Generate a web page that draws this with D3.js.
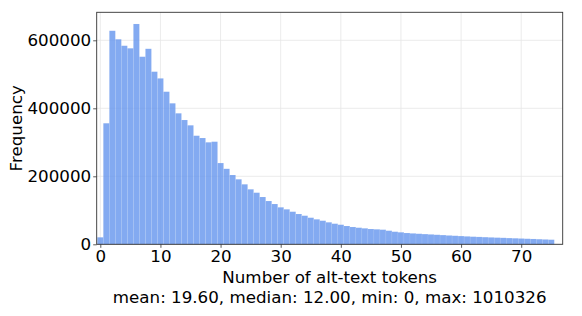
<!DOCTYPE html>
<html>
<head>
<meta charset="utf-8">
<script src="https://cdn.jsdelivr.net/npm/d3@7"></script>
<style>
  html, body { margin: 0; padding: 0; background: #fff; }
  svg text { font-family: "DejaVu Sans", sans-serif; fill: #000; }
</style>
</head>
<body>
<div id="chart"></div>
<script>
'use strict';

// histogram bins: token count 0..75, one bin per integer
var tokens = d3.range(0, 76);
var counts = [
  20600, 356000, 628000, 603000, 584000, 576500, 648000, 551700, 575000, 507700,
  488000, 448800, 414700, 385300, 365600, 350000, 319400, 312600, 300000, 301800,
  239000, 222000, 203800, 191200, 176500, 161800, 151800, 139100, 127300, 118500,
  108800, 102900, 95900, 89100, 84100, 78200, 73500, 69400, 64700, 60600,
  57600, 53800, 50900, 48800, 47000, 45000, 44100, 43000, 40000, 37000,
  35300, 33200, 32100, 31000, 30000, 29100, 28000, 27100, 26000, 25100,
  24200, 23300, 22400, 21700, 21000, 20300, 19600, 19000, 18300, 17700,
  17000, 16300, 15700, 15000, 14300, 13600
];
var xTicks = [0, 10, 20, 30, 40, 50, 60, 70];
var yTicks = [0, 200000, 400000, 600000];
var xLabel = "Number of alt-text tokens";
var statsLabel = "mean: 19.60, median: 12.00, min: 0, max: 1010326";
var yLabel = "Frequency";

var W = 582, H = 316;
var m = {left: 96.7, right: 582 - 562.7, top: 12.3, bottom: 316 - 244.3};
var iw = W - m.left - m.right, ih = H - m.top - m.bottom;
var fontSize = '16.7px';

var svg = d3.select('#chart').append('svg')
  .attr('width', W)
  .attr('height', H);

var x = d3.scaleLinear().domain([-0.6, 76.9]).range([m.left, m.left + iw]);
var y = d3.scaleLinear().domain([0, 682350]).range([m.top + ih, m.top]);

// grid
var grid = svg.append('g').attr('class', 'grid');
grid.selectAll('.gx').data(xTicks).enter().append('line')
  .attr('x1', function(d){ return x(d); }).attr('x2', function(d){ return x(d); })
  .attr('y1', m.top).attr('y2', m.top + ih)
  .attr('stroke', '#e6e6e6').attr('stroke-width', 0.8);
grid.selectAll('.gy').data(yTicks).enter().append('line')
  .attr('x1', m.left).attr('x2', m.left + iw)
  .attr('y1', function(d){ return y(d); }).attr('y2', function(d){ return y(d); })
  .attr('stroke', '#e6e6e6').attr('stroke-width', 0.8);

// bars
svg.append('g').selectAll('rect')
  .data(tokens)
  .enter().append('rect')
    .attr('x', function(d){ return x(d - 0.5); })
    .attr('width', function(d){ return x(d + 0.5) - x(d - 0.5); })
    .attr('y', function(d, i){ return y(counts[i]); })
    .attr('height', function(d, i){ return y(0) - y(counts[i]); })
    .attr('fill', 'cornflowerblue')
    .attr('fill-opacity', 0.8)
    .attr('stroke', '#ffffff')
    .attr('stroke-opacity', 0.15)
    .attr('stroke-width', 0.5);

// axes
var xAxis = d3.axisBottom(x).tickValues(xTicks).tickSize(3.5).tickPadding(2).tickFormat(d3.format('d'));
var yAxis = d3.axisLeft(y).tickValues(yTicks).tickSize(3.5).tickPadding(2).tickFormat(d3.format('d'));

var gx = svg.append('g').attr('transform', 'translate(0,' + (m.top + ih) + ')').call(xAxis);
var gy = svg.append('g').attr('transform', 'translate(' + m.left + ',0)').call(yAxis);
[gx, gy].forEach(function(g){
  g.select('.domain').remove();
  g.selectAll('.tick line').attr('stroke', '#333').attr('stroke-width', 0.8);
  g.selectAll('.tick text').style('font-size', fontSize).attr('fill', '#000');
});

// frame
svg.append('rect')
  .attr('x', m.left).attr('y', m.top)
  .attr('width', iw).attr('height', ih)
  .attr('fill', 'none')
  .attr('stroke', '#333')
  .attr('stroke-width', 0.9);

// labels
var cx = m.left + iw / 2;
svg.append('text')
  .attr('x', cx).attr('y', 283)
  .attr('text-anchor', 'middle')
  .style('font-size', fontSize)
  .text(xLabel);
svg.append('text')
  .attr('x', cx).attr('y', 303)
  .attr('text-anchor', 'middle')
  .style('font-size', fontSize)
  .text(statsLabel);
svg.append('text')
  .attr('transform', 'translate(22,' + (m.top + ih / 2) + ') rotate(-90)')
  .attr('text-anchor', 'middle')
  .style('font-size', fontSize)
  .text(yLabel);
</script>
</body>
</html>
